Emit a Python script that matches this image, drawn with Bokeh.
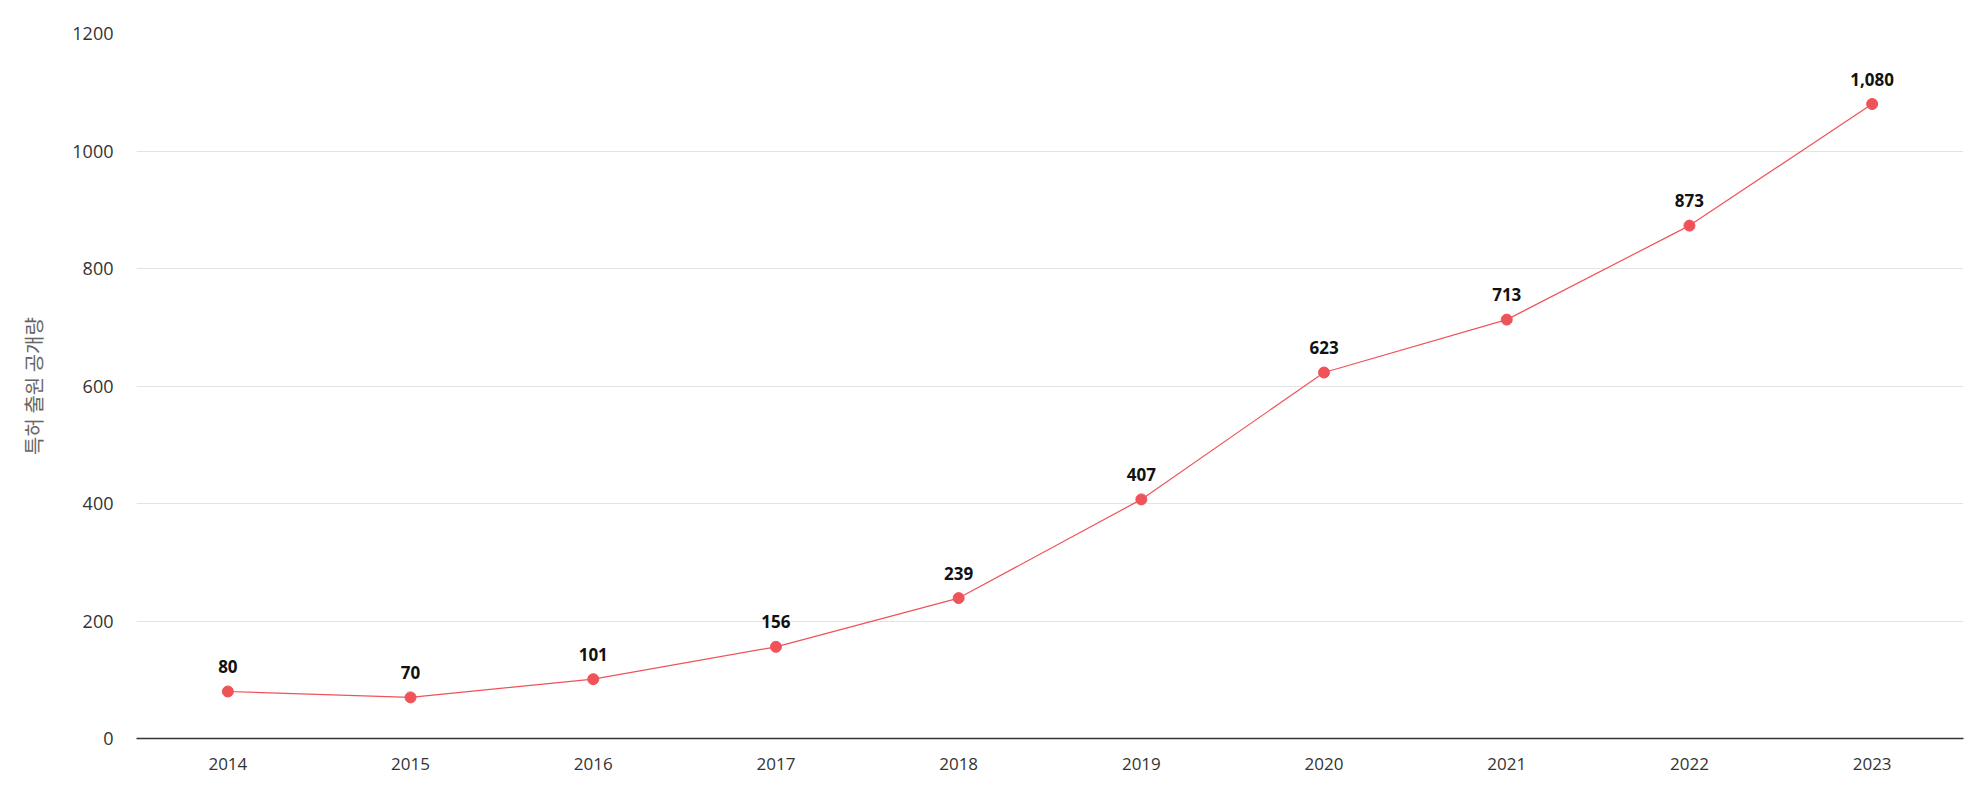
from bokeh.plotting import figure
from bokeh.models import ColumnDataSource, Range1d, FactorRange, FixedTicker, LabelSet
from bokeh.core.properties import value
from bokeh.embed import file_html
from bokeh.resources import INLINE

years = ["2014", "2015", "2016", "2017", "2018", "2019", "2020", "2021", "2022", "2023"]
values = [80, 70, 101, 156, 239, 407, 623, 713, 873, 1080]
labels = ["80", "70", "101", "156", "239", "407", "623", "713", "873", "1,080"]
y_ticks = [0, 200, 400, 600, 800, 1000, 1200]

src = ColumnDataSource(dict(x=years, y=values, lab=labels))

p = figure(width=1964, height=779, x_range=FactorRange(*years), y_range=Range1d(0, 1200),
           output_backend="svg", toolbar_location=None,
           min_border_left=136, min_border_right=1, min_border_top=33, min_border_bottom=41)
p.outline_line_color = None
p.background_fill_color = "white"

p.line("x", "y", source=src, line_color="#EF5359", line_width=1.2)
p.scatter("x", "y", source=src, size=11, fill_color="#EF5359", line_color="#EF5359")

ls = LabelSet(x="x", y="y", text="lab", source=src, text_align="center", text_baseline="middle",
              y_offset=25, text_font=value("Noto Sans"), text_font_size="17px",
              text_font_style="bold", text_color="#111111")
p.add_layout(ls)

p.yaxis.ticker = FixedTicker(ticks=y_ticks)
p.yaxis.axis_line_color = None
p.yaxis.major_tick_line_color = None
p.yaxis.major_tick_out = 0
p.yaxis.minor_tick_line_color = None
p.yaxis.minor_tick_out = 0
p.yaxis.major_label_text_font = "Open Sans"
p.yaxis.major_label_text_font_size = "18px"
p.yaxis.major_label_text_color = "#333333"
p.yaxis.major_label_standoff = 23
p.yaxis.axis_label = "특허 출원 공개량"
p.yaxis.axis_label_text_font = "Noto Sans CJK KR"
p.yaxis.axis_label_text_font_size = "20px"
p.yaxis.axis_label_text_font_style = "normal"
p.yaxis.axis_label_text_color = "#666666"
p.yaxis.axis_label_standoff = 21

p.xaxis.axis_line_color = "#333333"
p.xaxis.axis_line_width = 1.5
p.xaxis.major_tick_line_color = None
p.xaxis.major_tick_out = 0
p.xaxis.minor_tick_line_color = None
p.xaxis.minor_tick_out = 0
p.xaxis.major_label_text_font = "Open Sans"
p.xaxis.major_label_text_font_size = "17px"
p.xaxis.major_label_text_color = "#333333"
p.xaxis.major_label_standoff = 19

p.xgrid.grid_line_color = None
p.ygrid.grid_line_color = "#e3e3e3"
p.ygrid.grid_line_width = 1

open("out.html", "w").write(file_html(p, INLINE))
